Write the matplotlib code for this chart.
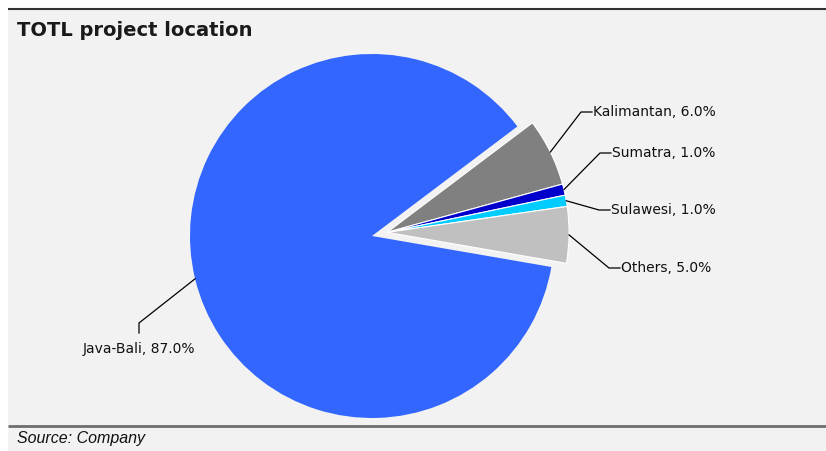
import numpy as np
import matplotlib
matplotlib.use("Agg")
import matplotlib.pyplot as plt
from matplotlib.patches import Rectangle

# ---- data ----
categories = ["Kalimantan", "Sumatra", "Sulawesi", "Others", "Java-Bali"]
shares = [6.0, 1.0, 1.0, 5.0, 87.0]
colors = ["#808080", "#0000CC", "#00CCFF", "#C0C0C0", "#3366FF"]
title = "TOTL project location"
source = "Source: Company"

W, H = 826, 451
fig = plt.figure(figsize=(W / 100, H / 100), dpi=100)
fig.patch.set_facecolor("white")
ax = fig.add_axes([0, 0, 1, 1])


def Y(y):
    return H - y


# panel background & rules
ax.add_patch(Rectangle((8, Y(451)), W - 8, 451 - 9, facecolor="#F2F2F2", edgecolor="none", zorder=0))
ax.plot([8, W], [Y(9), Y(9)], color="#333333", lw=1.5, zorder=1, solid_capstyle="butt")
ax.plot([8, W], [Y(425.5), Y(425.5)], color="#6E6E6E", lw=2.0, zorder=1, solid_capstyle="butt")

# pie
cx, cy, R = 372, 236, 182
start = 37
wedges, _ = ax.pie(shares, colors=colors, startangle=start, counterclock=False,
                   center=(cx, Y(cy)), radius=R, frame=True,
                   wedgeprops=dict(edgecolor="white", linewidth=0.8))
wedges[-1].set_edgecolor("none")

# shift the small slices together (pulled out group)
small = shares[:-1]
grp_mid = np.deg2rad(start - sum(small) / 2 * 3.6)
off = 15.5
dx, dy = off * np.cos(grp_mid), off * np.sin(grp_mid)
for w in wedges[:-1]:
    w.set_center((cx + dx, Y(cy) + dy))

# labels with leader lines
text_pos = {
    "Kalimantan": (593, 112),
    "Sumatra": (612, 153),
    "Sulawesi": (611, 210),
    "Others": (621, 268),
}
cum = 0.0
for name, v, w in zip(categories, shares, wedges):
    mid = np.deg2rad(start - (cum + v / 2) * 3.6)
    cum += v
    ccx, ccy = w.center
    r = w.r
    ax_x = ccx + r * np.cos(mid)
    ax_y = ccy + r * np.sin(mid)
    lab = f"{name}, {v:.1f}%"
    if name in text_pos:
        tx, ty = text_pos[name]
        ex = tx - 12
        ax.plot([ax_x, ex, tx - 1], [ax_y, Y(ty), Y(ty)], color="black", lw=0.9, zorder=3)
        ax.text(tx, Y(ty), lab, ha="left", va="center", fontsize=10, color="#111111", zorder=4)
    else:
        ex, ey = 139, 323
        ax.plot([ax_x, ex, ex], [ax_y, Y(ey), Y(ey + 10)], color="black", lw=0.9, zorder=3)
        ax.text(ex, Y(349), lab, ha="center", va="center", fontsize=10, color="#111111", zorder=4)

ax.text(17, Y(30), title, ha="left", va="center", fontsize=14, fontweight="bold", color="#1a1a1a")
ax.text(17, Y(438), source, ha="left", va="center", fontsize=11.5, style="italic",
        family="Liberation Sans", color="#111111")

ax.set_xlim(0, W)
ax.set_ylim(0, H)
ax.set_aspect("auto")
ax.set_axis_off()

fig.savefig("out.png", dpi=100, facecolor=fig.get_facecolor())
